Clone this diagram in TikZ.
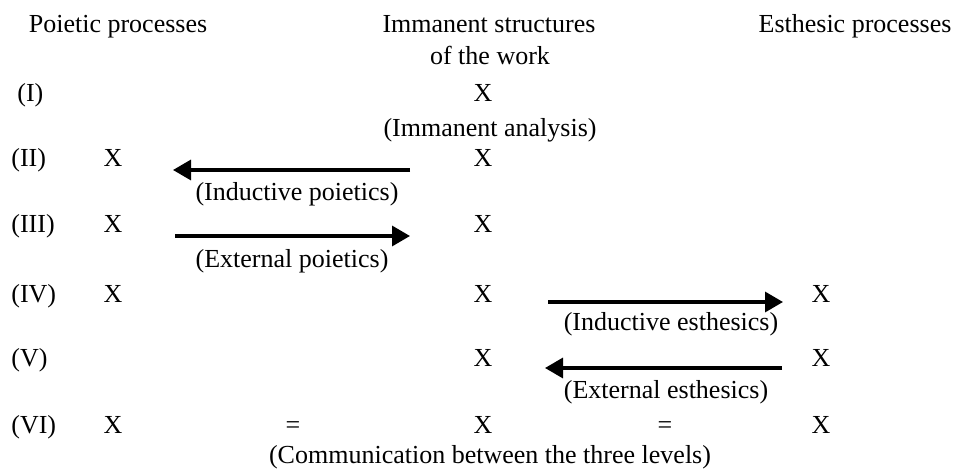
\documentclass[tikz,border=0pt]{standalone}
\usepackage{fontspec}
\setmainfont{Liberation Serif}
\usetikzlibrary{arrows.meta}
\tikzset{
  txt/.style={anchor=base, inner sep=0pt, font=\fontsize{13}{15}\selectfont},
  rowlab/.style={txt, anchor=base west},
  arr/.style={-{Triangle[length=9pt, width=10pt]}, line width=1.65pt}}
\begin{document}
\begin{tikzpicture}[x=0.5pt, y=-0.5pt]
  \useasboundingbox (0,0) rectangle (957,470);
  % column heads
  \node[txt] (hdpo) at (118,33) {Poietic processes};
  \node[txt] (hdim) at (489,33) {Immanent structures};
  \node[txt] (hdwk) at (490,65) {of the work};
  \node[txt] (hdes) at (855,33) {Esthesic processes};
  % row labels
  \node[rowlab] (r1) at (17,102) {(I)};
  \node[rowlab] (r2) at (11,167) {(II)};
  \node[rowlab] (r3) at (11,233) {(III)};
  \node[rowlab] (r4) at (11,302) {(IV)};
  \node[rowlab] (r5) at (11,366) {(V)};
  \node[rowlab] (r6) at (11,433) {(VI)};
  % the X marks
  \node[txt] (m1) at (483,102) {X};
  \node[txt] (p2) at (113,167) {X};
  \node[txt] (m2) at (483,167) {X};
  \node[txt] (p3) at (113,233) {X};
  \node[txt] (m3) at (483,233) {X};
  \node[txt] (p4) at (113,302) {X};
  \node[txt] (m4) at (483,302) {X};
  \node[txt] (e4) at (821,302) {X};
  \node[txt] (m5) at (483,366) {X};
  \node[txt] (e5) at (821,366) {X};
  \node[txt] (p6) at (113,433) {X};
  \node[txt] (q1) at (293,433) {=};
  \node[txt] (m6) at (483,433) {X};
  \node[txt] (q2) at (665,433) {=};
  \node[txt] (e6) at (821,433) {X};
  % analysis labels
  \node[txt] (lim) at (490,137) {(Immanent analysis)};
  \node[txt] (lip) at (297,200) {(Inductive poietics)};
  \node[txt] (lep) at (292,267) {(External poietics)};
  \node[txt] (lie) at (671,330) {(Inductive esthesics)};
  \node[txt] (lee) at (666,398) {(External esthesics)};
  \node[txt] (lcm) at (490,463) {(Communication between the three levels)};
  % arrow ends
  \coordinate (ip-a) at (410,170);
  \coordinate (ip-b) at (173,170);
  \coordinate (ep-a) at (175,236);
  \coordinate (ep-b) at (410,236);
  \coordinate (ie-a) at (548,302);
  \coordinate (ie-b) at (783,302);
  \coordinate (ee-a) at (782,368);
  \coordinate (ee-b) at (545,368);
  \draw[arr] (ip-a) -- (ip-b);
  \draw[arr] (ep-a) -- (ep-b);
  \draw[arr] (ie-a) -- (ie-b);
  \draw[arr] (ee-a) -- (ee-b);
\end{tikzpicture}
\end{document}
